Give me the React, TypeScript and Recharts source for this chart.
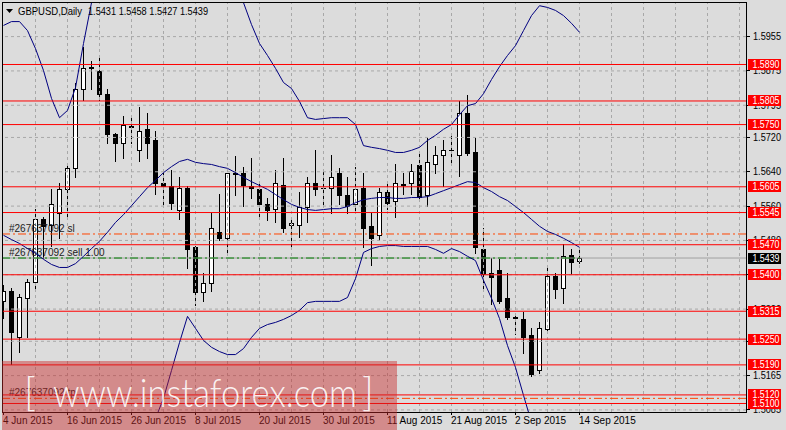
import React from "react";
import { ComposedChart, Bar, Line, XAxis, YAxis, ReferenceLine } from "recharts";

const FONT = "'Liberation Sans', Arial, sans-serif";

// GBPUSD daily, 4 Jun 2015 .. 14 Sep 2015 (one entry per trading day)
const opens = [
  1.534, 1.5363, 1.5254, 1.5347, 1.5382, 1.5529, 1.5515, 1.5545, 1.5601, 1.5648,
  1.5832, 1.5881, 1.5874, 1.5822, 1.5729, 1.5708, 1.5746, 1.569, 1.5739, 1.5713,
  1.5615, 1.5608, 1.555, 1.5603, 1.5464, 1.5359, 1.538, 1.5499, 1.5485, 1.5638,
  1.5638, 1.5606, 1.5601, 1.5564, 1.5554, 1.561, 1.5515, 1.5515, 1.5559, 1.5613,
  1.5603, 1.5603, 1.5638, 1.5585, 1.5566, 1.5603, 1.5513, 1.5492, 1.5592, 1.5571,
  1.561, 1.5613, 1.5655, 1.5585, 1.5659, 1.5678, 1.569, 1.568, 1.5776, 1.5687,
  1.5461, 1.5403, 1.5412, 1.5345, 1.5301, 1.5298, 1.5259, 1.5179, 1.5273, 1.5396,
  1.5368, 1.5445, 1.5431,
];
const highs = [
  1.5375, 1.537, 1.5356, 1.5389, 1.5554, 1.5534, 1.5599, 1.5613, 1.5655, 1.5846,
  1.593, 1.5897, 1.5911, 1.5832, 1.573, 1.5769, 1.5767, 1.579, 1.5776, 1.5734,
  1.5636, 1.5643, 1.5627, 1.5608, 1.5466, 1.5403, 1.5543, 1.5589, 1.5638, 1.5676,
  1.5652, 1.5673, 1.5615, 1.5578, 1.5645, 1.5671, 1.5527, 1.5594, 1.5627, 1.569,
  1.5643, 1.5678, 1.5648, 1.5627, 1.565, 1.5636, 1.5543, 1.5603, 1.5613, 1.5659,
  1.5636, 1.5659, 1.5685, 1.5718, 1.5701, 1.5713, 1.5725, 1.5806, 1.5818, 1.5718,
  1.5508, 1.544, 1.5436, 1.5405, 1.5312, 1.5314, 1.5275, 1.5289, 1.5415, 1.5403,
  1.5471, 1.5461, 1.5458,
];
const lows = [
  1.53, 1.5193, 1.5219, 1.5256, 1.5368, 1.544, 1.5468, 1.5485, 1.5538, 1.5627,
  1.5808, 1.5834, 1.5808, 1.5706, 1.5666, 1.5673, 1.5708, 1.5664, 1.5671, 1.5589,
  1.5561, 1.5554, 1.5531, 1.5415, 1.5329, 1.534, 1.5361, 1.548, 1.545, 1.5585,
  1.5561, 1.5578, 1.5538, 1.5527, 1.5522, 1.5499, 1.5464, 1.5489, 1.5524, 1.5587,
  1.5564, 1.5545, 1.5566, 1.5545, 1.5543, 1.5464, 1.5422, 1.548, 1.5554, 1.5534,
  1.5589, 1.5589, 1.5578, 1.5561, 1.5636, 1.5608, 1.5655, 1.5631, 1.5678, 1.545,
  1.537, 1.5333, 1.5335, 1.5298, 1.5263, 1.5217, 1.5163, 1.517, 1.527, 1.5347,
  1.5335, 1.5401, 1.5427,
];
const closes = [
  1.5363, 1.5266, 1.5349, 1.5384, 1.5529, 1.5513, 1.5566, 1.5601, 1.5648, 1.5832,
  1.5881, 1.5885, 1.5822, 1.5729, 1.5706, 1.5748, 1.5744, 1.5736, 1.5708, 1.5615,
  1.5606, 1.5568, 1.5603, 1.5461, 1.5359, 1.538, 1.551, 1.5485, 1.5636, 1.5634,
  1.561, 1.5603, 1.5564, 1.5552, 1.5613, 1.551, 1.552, 1.5557, 1.5613, 1.5601,
  1.5602, 1.5627, 1.5587, 1.5561, 1.5601, 1.551, 1.5485, 1.5592, 1.5568, 1.5613,
  1.5611, 1.5641, 1.5582, 1.5662, 1.568, 1.569, 1.5691, 1.5776, 1.5683, 1.5464,
  1.5401, 1.5394, 1.534, 1.5301, 1.53, 1.5254, 1.5168, 1.5277, 1.5396, 1.5366,
  1.5443, 1.5429, 1.5439,
];

// Bollinger bands (20) as drawn on the chart
const bbUpper = [
  1.5981, 1.599, 1.599, 1.5969, 1.5927, 1.5876, 1.5811, 1.5766, 1.5783, 1.5836,
  1.5939, 1.6034, 1.6097, 1.6144, 1.6179, 1.6202, 1.6214, 1.6207, 1.6191, 1.6174,
  1.6165, 1.6128, 1.6086, 1.6048, 1.6053, 1.6072, 1.6083, 1.6083, 1.6081, 1.6062,
  1.6034, 1.5983, 1.5939, 1.5911, 1.5881, 1.5848, 1.5834, 1.5804, 1.5766, 1.5762,
  1.5764, 1.5766, 1.5766, 1.5766, 1.575, 1.5701, 1.5697, 1.5694, 1.569, 1.5685,
  1.5685, 1.569, 1.5697, 1.5713, 1.5725, 1.5739, 1.575, 1.5773, 1.5794, 1.5799,
  1.5822, 1.5855, 1.5885, 1.5911, 1.5934, 1.5969, 1.6004, 1.6027, 1.6023, 1.6016,
  1.6004, 1.5986, 1.5965,
];
const bbMiddle = [
  1.5492, 1.5482, 1.5473, 1.5461, 1.545, 1.5436, 1.5424, 1.5417, 1.5417, 1.5426,
  1.5443, 1.5461, 1.5478, 1.5499, 1.5522, 1.554, 1.5561, 1.5582, 1.5603, 1.562,
  1.5638, 1.5652, 1.5664, 1.5669, 1.5662, 1.5659, 1.5657, 1.5652, 1.5648, 1.5638,
  1.5627, 1.5617, 1.5608, 1.5599, 1.5587, 1.5575, 1.5564, 1.5557, 1.5552, 1.555,
  1.5552, 1.5554, 1.5554, 1.5559, 1.5568, 1.5575, 1.5578, 1.558, 1.558, 1.5578,
  1.5578, 1.558, 1.558, 1.5582, 1.5589, 1.5596, 1.5603, 1.561, 1.5617, 1.5615,
  1.5603, 1.5594, 1.5582, 1.5573, 1.5559, 1.5545, 1.5529, 1.5513, 1.5501, 1.5494,
  1.5485, 1.5475, 1.5464,
];
const bbLower = [
  1.5002, 1.4974, 1.4956, 1.4953, 1.4972, 1.4995, 1.5037, 1.5068, 1.5051, 1.5016,
  1.4946, 1.4888, 1.4858, 1.4853, 1.4865, 1.4879, 1.4909, 1.4958, 1.5016, 1.5065,
  1.5112, 1.5177, 1.5242, 1.5303, 1.5275, 1.5247, 1.5231, 1.5221, 1.5214, 1.5214,
  1.5228, 1.5254, 1.5275, 1.5284, 1.5289, 1.5296, 1.5305, 1.5317, 1.5335, 1.5338,
  1.5338, 1.5338, 1.5338, 1.5347, 1.5391, 1.5452, 1.5461, 1.5466, 1.5468, 1.5468,
  1.5466, 1.5466, 1.5466, 1.5466, 1.5459, 1.545, 1.5461, 1.5454, 1.5443, 1.5433,
  1.5387, 1.5345, 1.5298, 1.5235, 1.5184, 1.5119, 1.5056, 1.4995, 1.4979, 1.4972,
  1.4965, 1.4963, 1.4963,
];

const dateTicks = [0, 8, 16, 24, 32, 40, 48, 56, 64, 72];
const dateLabels = [
  "4 Jun 2015", "16 Jun 2015", "26 Jun 2015", "8 Jul 2015", "20 Jul 2015",
  "30 Jul 2015", "11 Aug 2015", "21 Aug 2015", "2 Sep 2015", "14 Sep 2015",
];
const gridBars = [4, 8, 12, 16, 20, 24, 28, 32, 36, 40, 44, 48, 52, 56, 60, 64, 68, 72, 76, 80, 84, 88, 92];
const priceTicks = [1.5955, 1.5875, 1.5795, 1.572, 1.564, 1.556, 1.548, 1.54, 1.532, 1.5245, 1.5165, 1.5085];
const levels = [1.589, 1.5805, 1.575, 1.5605, 1.5545, 1.547, 1.54, 1.5315, 1.525, 1.519, 1.512, 1.51];

const ticket = "#267637092";
const slPrice = 1.5495;
const tpPrice = 1.5112;
const openPrice = 1.5439;
const bidPrice = 1.5439;

const X_DOMAIN = [-0.1875, 92.8125];
const Y_DOMAIN = [1.508018, 1.603565];

const rows = opens.map((o, i) => ({
  i,
  o,
  h: highs[i],
  l: lows[i],
  c: closes[i],
  range: [lows[i], highs[i]],
  up: bbUpper[i],
  mid: bbMiddle[i],
  low: bbLower[i],
}));

const Candle = (props: any) => {
  const { x, y, width, height, payload } = props;
  if (x == null || !payload) return null;
  const { o, h, l, c } = payload;
  const cx = Math.floor(x + width / 2) + 0.5;
  const k = h > l ? height / (h - l) : 0;
  const py = (p: number) => y + (h - p) * k;
  const top = Math.round(py(Math.max(o, c)));
  const bot = Math.round(py(Math.min(o, c)));
  const wTop = Math.round(y);
  const wBot = Math.round(y + height);
  let body;
  if (bot - top < 1) {
    body = <line x1={cx - 2.5} x2={cx + 2.5} y1={top + 0.5} y2={top + 0.5} stroke="#000" />;
  } else if (c >= o) {
    body = <rect x={cx - 2} y={top + 0.5} width={4} height={bot - top} fill="#fff" stroke="#000" />;
  } else {
    body = <rect x={cx - 2.5} y={top} width={5} height={bot - top + 1} fill="#000" />;
  }
  return (
    <g>
      <line x1={cx} x2={cx} y1={wTop} y2={wBot + 1} stroke="#000" />
      {body}
    </g>
  );
};

const DateTick = (props: any) => {
  const { x, y, payload } = props;
  return (
    <text x={x - 0.5} y={y} dy="0.71em" fontSize={10} fontFamily={FONT} fill="#000">
      {dateLabels[dateTicks.indexOf(payload.value)]}
    </text>
  );
};

// price scale label, drawn as the label of the horizontal grid line so level tags can cover it
const AxisPrice = (props: any) => {
  const { viewBox, price } = props;
  if (!viewBox) return null;
  const x = viewBox.x + viewBox.width;
  const y = Math.floor(viewBox.y) + 0.5;
  return (
    <g>
      <line x1={x} x2={x + 4} y1={y} y2={y} stroke="#000" />
      <text x={x + 7} y={y} dy="0.36em" fontSize={10.5} fontFamily={FONT} fill="#000" textLength={28} lengthAdjust="spacingAndGlyphs">
        {price.toFixed(4)}
      </text>
    </g>
  );
};

const PriceTag = (props: any) => {
  const { viewBox, price, bg } = props;
  if (!viewBox) return null;
  const x = viewBox.x + viewBox.width;
  const y = Math.floor(viewBox.y);
  return (
    <g>
      <rect x={x + 2} y={y - 5} width={33} height={11} fill={bg} />
      <text x={x + 6.5} y={y + 0.5} dy="0.36em" fill="#fff" fontSize={10.5} fontFamily={FONT} textLength={27} lengthAdjust="spacingAndGlyphs">
        {price.toFixed(4)}
      </text>
    </g>
  );
};

const TradeText = (props: any) => {
  const { viewBox, text } = props;
  if (!viewBox) return null;
  return (
    <text x={viewBox.x + 7} y={viewBox.y - 2} fontSize={10} fontFamily={FONT} fill="#222">
      {text}
    </text>
  );
};

export default function App() {
  return (
    <div style={{ position: "absolute", left: 0, top: 0, width: 786, height: 430, background: "#dcdcdc" }}>
      <ComposedChart width={786} height={430} data={rows} margin={{ top: 2, right: 0, left: 2, bottom: 0 }}>
        <XAxis
          dataKey="i"
          type="number"
          domain={X_DOMAIN}
          allowDataOverflow
          ticks={dateTicks}
          interval={0}
          height={18}
          tickSize={3}
          tickMargin={2}
          axisLine={false}
          tickLine={{ stroke: "#000" }}
          tick={<DateTick />}
        />
        <YAxis
          orientation="right"
          type="number"
          domain={Y_DOMAIN}
          allowDataOverflow
          ticks={priceTicks}
          width={40}
          axisLine={false}
          tickLine={false}
          tick={false}
        />
        {gridBars.map((g) => (
          <ReferenceLine key={"gx" + g} x={g} stroke="#a8a8a8" strokeDasharray="3 3" />
        ))}
        {priceTicks.map((p) => (
          <ReferenceLine key={"gy" + p} y={p} stroke="#a8a8a8" strokeDasharray="3 3" label={<AxisPrice price={p} />} />
        ))}
        <ReferenceLine y={bidPrice} stroke="#a0a0a0" label={<PriceTag price={bidPrice} bg="#000" />} />
        <ReferenceLine
          segment={[{ x: X_DOMAIN[0], y: openPrice }, { x: 72, y: openPrice }]}
          stroke="#008000"
          strokeDasharray="8 3 2 3"
          label={<TradeText text={`${ticket} sell 1.00`} />}
        />
        <ReferenceLine y={slPrice} stroke="#ff4500" strokeDasharray="8 3 2 3" label={<TradeText text={`${ticket} sl`} />} />
        <ReferenceLine y={tpPrice} stroke="#ff4500" strokeDasharray="8 3 2 3" label={<TradeText text={`${ticket} tp`} />} />
        <Line dataKey="up" stroke="#000080" strokeWidth={1} dot={false} isAnimationActive={false} />
        <Line dataKey="mid" stroke="#000080" strokeWidth={1} dot={false} isAnimationActive={false} />
        <Line dataKey="low" stroke="#000080" strokeWidth={1} dot={false} isAnimationActive={false} />
        <Bar dataKey="range" barSize={5} shape={<Candle />} isAnimationActive={false} />
        {levels.map((lv) => (
          <ReferenceLine key={"lv" + lv} y={lv} stroke="#ff0000" label={<PriceTag price={lv} bg="#ff0000" />} />
        ))}
      </ComposedChart>
      <svg width={786} height={430} style={{ position: "absolute", left: 0, top: 0, pointerEvents: "none" }}>
        <rect x={2.5} y={2.5} width={744} height={410} fill="none" stroke="#000" />
        <polygon points="6,9 13,9 9.5,13" fill="#000" />
        <text x={18} y={15} fontSize={10.5} fontFamily={FONT} fill="#000" textLength={64} lengthAdjust="spacingAndGlyphs">
          GBPUSD,Daily
        </text>
        <text x={88} y={15} fontSize={10.5} fontFamily={FONT} fill="#000" textLength={120} lengthAdjust="spacingAndGlyphs">
          {[opens[72], highs[72], lows[72], closes[72]].map((v) => v.toFixed(4)).join(" ")}
        </text>
        <rect x={2} y={361} width={395} height={69} fill="rgba(200,40,40,0.45)" />
        <g fill="rgba(255,255,255,0.9)" fontFamily="Lato, 'Open Sans', sans-serif" fontWeight={300}>
          <text x={24} y={406} fontSize={40}>[</text>
          <text x={53} y={407} fontSize={40} textLength={304} lengthAdjust="spacingAndGlyphs">www.instaforex.com</text>
          <text x={362} y={406} fontSize={40}>]</text>
        </g>
      </svg>
    </div>
  );
}
